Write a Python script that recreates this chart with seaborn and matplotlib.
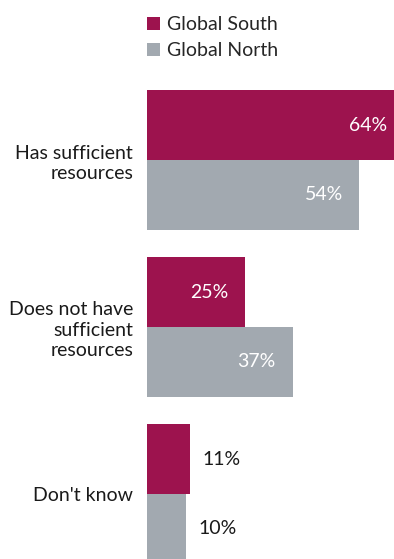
import seaborn as sns
import pandas as pd
import matplotlib.pyplot as plt

categories = ["Has sufficient\nresources", "Does not have\nsufficient\nresources", "Don't know"]
groups = ["Global South", "Global North"]
south = [64, 25, 11]
north = [54, 37, 10]
colors = ["#9d134e", "#a2a9b0"]

df = pd.DataFrame({
    "category": categories * 2,
    "group": [groups[0]] * 3 + [groups[1]] * 3,
    "value": south + north,
})

sns.set_style("white")
plt.rcParams["font.family"] = ["Lato", "DejaVu Sans"]
fs = 14

fig = plt.figure(figsize=(3.94, 5.59), dpi=100)
ax = fig.add_axes([147 / 394, 0, 1 - 147 / 394, 1])

sns.barplot(data=df, y="category", x="value", hue="group", palette=colors,
            width=0.835, orient="h", ax=ax, saturation=1, linewidth=0)

ax.set_xlim(0, 62.8)
ax.set_ylim(2.389, -0.958)
ax.set_xlabel("")
ax.set_ylabel("")
ax.set_xticks([])
ax.tick_params(axis="y", length=0, pad=10, labelsize=fs, labelcolor="#1a1a1a")
for lab in ax.get_yticklabels():
    lab.set_horizontalalignment("right")
    lab.set_linespacing(1.25)
sns.despine(ax=ax, left=True, bottom=True)

for cont in ax.containers:
    for bar in cont:
        v = bar.get_width()
        y = bar.get_y() + bar.get_height() / 2
        if v > 20:
            ax.annotate(f"{v:.0f}%", (min(v, 62.8), y), xytext=(-12 if v < 60 else -5, 0),
                        textcoords="offset points", ha="right", va="center",
                        color="white", fontsize=fs)
        else:
            ax.annotate(f"{v:.0f}%", (v, y), xytext=(9, 0), textcoords="offset points",
                        ha="left", va="center", color="#1a1a1a", fontsize=fs)

sns.move_legend(ax, "upper left", bbox_to_anchor=(133 / 394, 0.995), bbox_transform=fig.transFigure,
                frameon=False, title=None, fontsize=fs, handlelength=0.7, handleheight=0.7,
                handletextpad=0.35, labelspacing=0.45, borderaxespad=0.3)

fig.savefig("out.png", dpi=100)
